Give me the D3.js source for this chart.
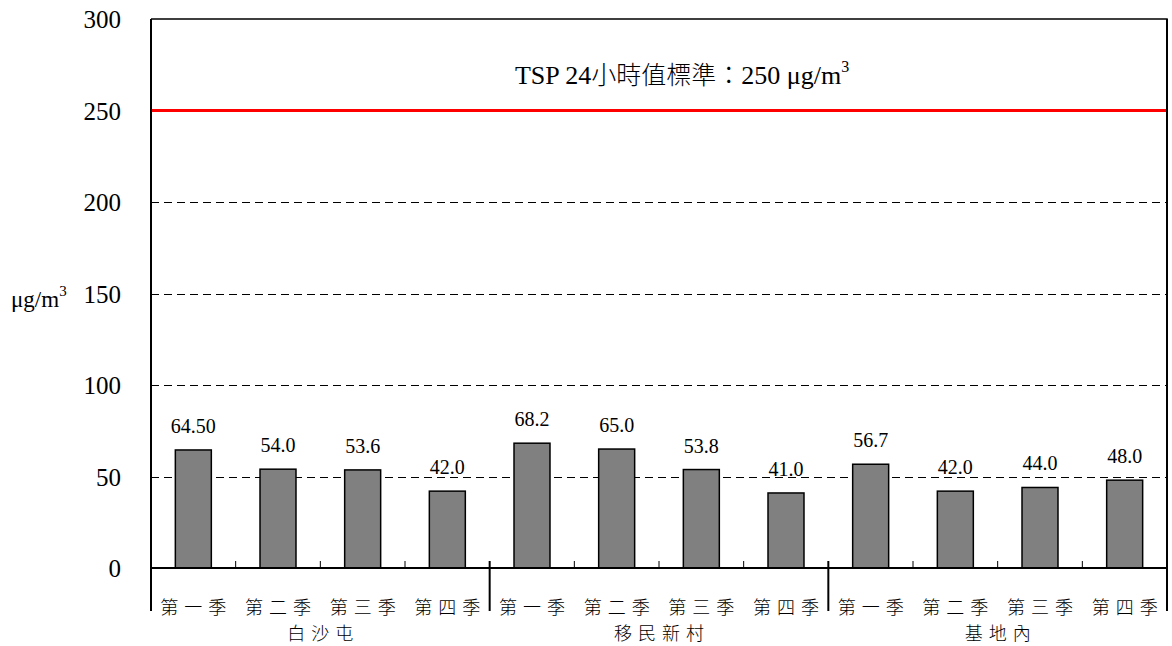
<!DOCTYPE html>
<html>
<head>
<meta charset="utf-8">
<script src="https://cdn.jsdelivr.net/npm/d3@7"></script>
<style>
  html, body { margin: 0; padding: 0; background: #fff; }
  svg { display: block; }
</style>
</head>
<body>
<svg id="chart" width="1172" height="646"></svg>
<script>
// TSP 24-hour concentrations by monitoring station and quarter
const stations = ["白沙屯", "移民新村", "基地內"];
const quarters = ["第一季", "第二季", "第三季", "第四季"];
const values = [64.5, 54.0, 53.6, 42.0, 68.2, 65.0, 53.8, 41.0, 56.7, 42.0, 44.0, 48.0];
const valueLabels = ["64.50", "54.0", "53.6", "42.0", "68.2", "65.0", "53.8", "41.0", "56.7", "42.0", "44.0", "48.0"];
const yTicks = [0, 50, 100, 150, 200, 250, 300];
const gridValues = [50, 100, 150, 200];
const standard = 250;

const serif = "'Liberation Serif', 'Times New Roman', 'DejaVu Serif', serif";
const cjk = "'Noto Sans CJK TC', 'Noto Sans CJK SC', sans-serif";

const svg = d3.select("#chart");
const plot = { left: 151, right: 1167, top: 19, bottom: 568 };

const keys = [];
stations.forEach((s, i) => quarters.forEach((q, j) => keys.push(i * 4 + j)));

const x = d3.scaleBand().domain(keys).range([plot.left, plot.right]).paddingInner(0.575).paddingOuter(0.2875);
const step = (plot.right - plot.left) / keys.length;
const y = d3.scaleLinear().domain([0, 300]).range([plot.bottom, plot.top]);

// dashed gridlines
svg.append("g").selectAll("line").data(gridValues).join("line")
  .attr("x1", plot.left).attr("x2", plot.right)
  .attr("y1", d => Math.round(y(d)) + 0.5).attr("y2", d => Math.round(y(d)) + 0.5)
  .attr("stroke", "#000").attr("stroke-width", 1)
  .attr("stroke-dasharray", "8,5");

// standard line
svg.append("line")
  .attr("x1", plot.left + 1).attr("x2", plot.right)
  .attr("y1", y(standard)).attr("y2", y(standard))
  .attr("stroke", "#ff0000").attr("stroke-width", 3);

svg.append("text")
  .attr("x", 682).attr("y", 84)
  .attr("text-anchor", "middle")
  .attr("font-family", serif).attr("font-size", 26)
  .call(t => {
    t.append("tspan").text("TSP 24");
    t.append("tspan").attr("font-family", cjk).attr("font-size", 25).attr("font-weight", 300).text("小時值標準：");
    t.append("tspan").text("250 μg/m");
    t.append("tspan").attr("font-size", 16).attr("dy", -12).text("3");
  });

// bars
svg.append("g").selectAll("rect").data(values).join("rect")
  .attr("x", (d, i) => x(i))
  .attr("y", d => y(d))
  .attr("width", x.bandwidth())
  .attr("height", d => y(0) - y(d))
  .attr("fill", "#808080")
  .attr("stroke", "#000").attr("stroke-width", 1.5);

// value labels
svg.append("g").selectAll("text").data(values).join("text")
  .attr("x", (d, i) => x(i) + x.bandwidth() / 2)
  .attr("y", d => y(d) - 17)
  .attr("text-anchor", "middle")
  .attr("font-family", serif).attr("font-size", 20)
  .text((d, i) => valueLabels[i]);

// frame
svg.append("path")
  .attr("d", `M${plot.left},${plot.top}H${plot.right}V${plot.bottom}`)
  .attr("fill", "none").attr("stroke", "#000").attr("stroke-width", 1.5);
svg.append("line")
  .attr("x1", plot.left).attr("x2", plot.left).attr("y1", plot.top).attr("y2", plot.bottom)
  .attr("stroke", "#000").attr("stroke-width", 2);
svg.append("line")
  .attr("x1", plot.left).attr("x2", plot.right).attr("y1", plot.bottom).attr("y2", plot.bottom)
  .attr("stroke", "#000").attr("stroke-width", 2);

// small ticks between quarters
const innerTicks = keys.slice(1).filter(k => k % 4 !== 0);
svg.append("g").selectAll("line").data(innerTicks).join("line")
  .attr("x1", k => plot.left + k * step).attr("x2", k => plot.left + k * step)
  .attr("y1", plot.bottom - 7).attr("y2", plot.bottom)
  .attr("stroke", "#000").attr("stroke-width", 1);

// station separators
const seps = d3.range(stations.length + 1);
svg.append("g").selectAll("line").data(seps).join("line")
  .attr("x1", i => plot.left + i * 4 * step).attr("x2", i => plot.left + i * 4 * step)
  .attr("y1", i => (i === 0 || i === stations.length) ? plot.top : plot.bottom - 7)
  .attr("y2", 611)
  .attr("stroke", "#000").attr("stroke-width", 2);

// y-axis labels
svg.append("g").selectAll("text").data(yTicks).join("text")
  .attr("x", 121).attr("y", d => y(d) + 9)
  .attr("text-anchor", "end")
  .attr("font-family", serif).attr("font-size", 25)
  .text(d => d);

svg.append("text")
  .attr("x", 11).attr("y", 307)
  .attr("font-family", serif).attr("font-size", 23)
  .call(t => {
    t.append("tspan").text("μg/m");
    t.append("tspan").attr("font-size", 15).attr("dy", -11).text("3");
  });

// quarter labels
svg.append("g").selectAll("text").data(keys).join("text")
  .attr("x", k => plot.left + (k + 0.5) * step + 3)
  .attr("y", 614)
  .attr("text-anchor", "middle")
  .attr("font-family", cjk).attr("font-size", 18).attr("font-weight", 300)
  .attr("letter-spacing", 6)
  .text(k => quarters[k % 4]);

// station labels
svg.append("g").selectAll("text").data(stations).join("text")
  .attr("x", (s, i) => plot.left + (i * 4 + 2) * step + 3)
  .attr("y", 640)
  .attr("text-anchor", "middle")
  .attr("font-family", cjk).attr("font-size", 18).attr("font-weight", 300)
  .attr("letter-spacing", 6)
  .text(s => s);
</script>
</body>
</html>
